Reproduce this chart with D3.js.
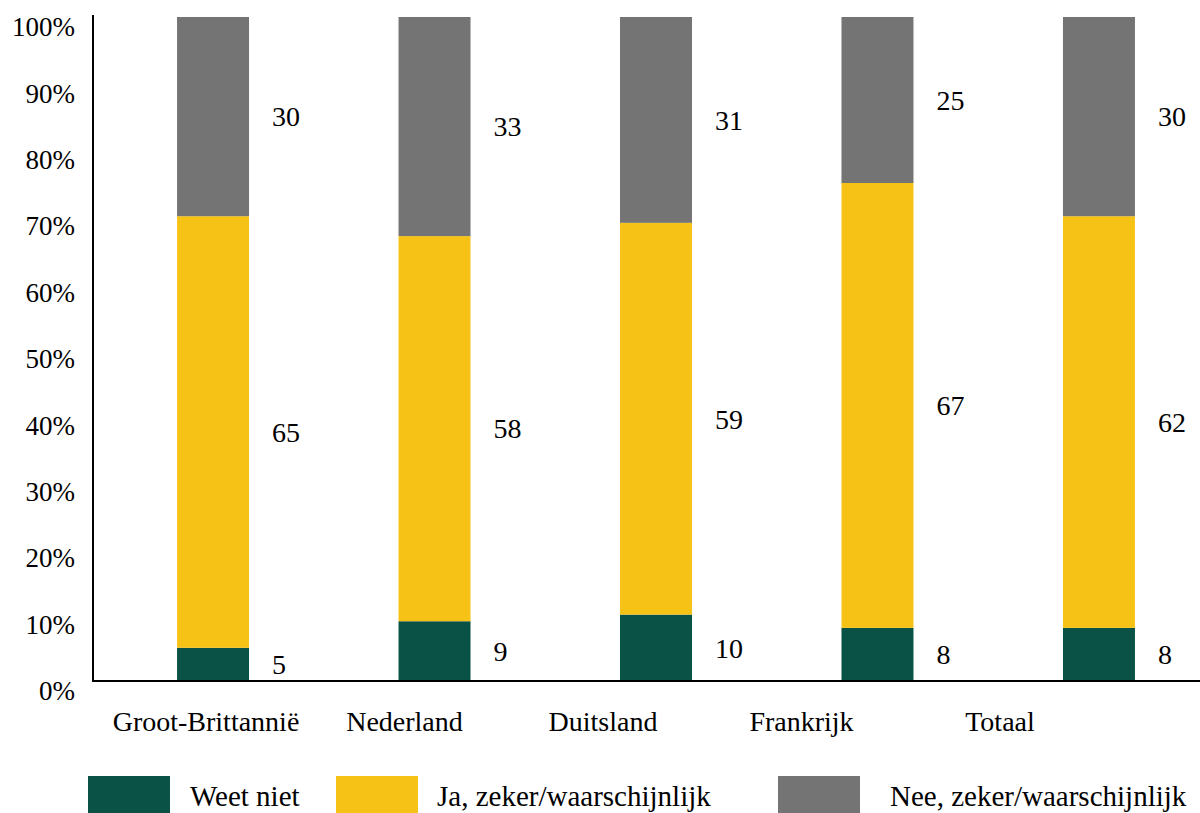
<!DOCTYPE html>
<html>
<head>
<meta charset="utf-8">
<script src="https://cdn.jsdelivr.net/npm/d3@7"></script>
<style>
  body { margin: 0; background: #fff; }
  svg text { font-family: "Liberation Serif", Tinos, "Times New Roman", "DejaVu Serif", serif !important; }
</style>
</head>
<body>
<svg id="the-svg" width="1200" height="813"></svg>
<script>
var categories = ["Groot-Brittannië", "Nederland", "Duitsland", "Frankrijk", "Totaal"];
var seriesNames = ["Weet niet", "Ja, zeker/waarschijnlijk", "Nee, zeker/waarschijnlijk"];
var weetNiet = [5, 9, 10, 8, 8];
var ja = [65, 58, 59, 67, 62];
var nee = [30, 33, 31, 25, 30];
var yTicks = [0, 10, 20, 30, 40, 50, 60, 70, 80, 90, 100];

var colors = ["#0a5246", "#f7c216", "#747474"];
var serif = "'Liberation Serif', Tinos, 'Times New Roman', 'DejaVu Serif', serif";

var theSvg = d3.select("#the-svg").attr("font-family", serif);

var rows = categories.map(function(c, i) {
    var r = { cat: c };
    r[seriesNames[0]] = weetNiet[i];
    r[seriesNames[1]] = ja[i];
    r[seriesNames[2]] = nee[i];
    return r;
});

var stacked = d3.stack().keys(seriesNames)(rows);

var y = d3.scaleLinear().domain([0, 100]).range([681, 17]);

// bars sit a bit to the right of the category labels in the original
var x = d3.scaleBand()
    .domain(categories)
    .range([94, 1218])
    .paddingInner(0.675)
    .paddingOuter(0.375);

var xLabel = d3.scalePoint().domain(categories).range([206, 1000]);

// y axis
var yAxis = d3.axisLeft(y)
    .tickValues(yTicks)
    .tickSize(0)
    .tickPadding(18)
    .tickFormat(function(d) { return d + "%"; });

var yg = theSvg.append("g")
    .attr("transform", "translate(93,0)")
    .call(yAxis)
    .attr("font-family", serif);
yg.select(".domain").remove();
yg.selectAll("text")
    .attr("font-size", 27)
    .attr("fill", "#000")
    .attr("dy", "0.69em");

// bars
var layers = theSvg.selectAll(".layer").data(stacked)
    .enter().append("g")
        .attr("class", "layer")
        .attr("fill", function(d, i) { return colors[i]; });

layers.selectAll("rect").data(function(d) { return d; })
    .enter().append("rect")
        .attr("x", function(d) { return x(d.data.cat); })
        .attr("width", x.bandwidth())
        .attr("y", function(d) { return y(d[1]); })
        .attr("height", function(d) { return y(d[0]) - y(d[1]); });

// value labels
layers.selectAll("text").data(function(d) { return d.map(function(p) { return { p: p, key: d.key }; }); })
    .enter().append("text")
        .attr("x", function(d) { return x(d.p.data.cat) + x.bandwidth() + 23; })
        .attr("y", function(d) { return y((d.p[0] + d.p[1]) / 2); })
        .attr("dy", "0.35em")
        .attr("fill", "#000")
        .attr("font-size", 28)
        .text(function(d) { return d.p.data[d.key]; });

// axis lines
theSvg.append("line")
    .attr("x1", 93).attr("x2", 93)
    .attr("y1", 15).attr("y2", 682)
    .attr("stroke", "#000").attr("stroke-width", 2);
theSvg.append("line")
    .attr("x1", 92).attr("x2", 1200)
    .attr("y1", 681).attr("y2", 681)
    .attr("stroke", "#000").attr("stroke-width", 2);

// category labels
theSvg.selectAll(".cat").data(categories)
    .enter().append("text")
        .attr("class", "cat")
        .attr("x", function(d) { return xLabel(d); })
        .attr("y", 731)
        .attr("text-anchor", "middle")
        .attr("font-size", 28)
        .attr("fill", "#000")
        .text(function(d) { return d; });

// legend
var legendX = [88, 336, 778];
var legendTextX = [190, 437, 890];
var legend = theSvg.selectAll(".legend").data(seriesNames)
    .enter().append("g")
        .attr("class", "legend");
legend.append("rect")
    .attr("x", function(d, i) { return legendX[i]; })
    .attr("y", 776)
    .attr("width", 82)
    .attr("height", 40)
    .attr("fill", function(d, i) { return colors[i]; });
legend.append("text")
    .attr("x", function(d, i) { return legendTextX[i]; })
    .attr("y", 806)
    .attr("font-size", 29)
    .attr("fill", "#000")
    .text(function(d) { return d; });
</script>
</body>
</html>
